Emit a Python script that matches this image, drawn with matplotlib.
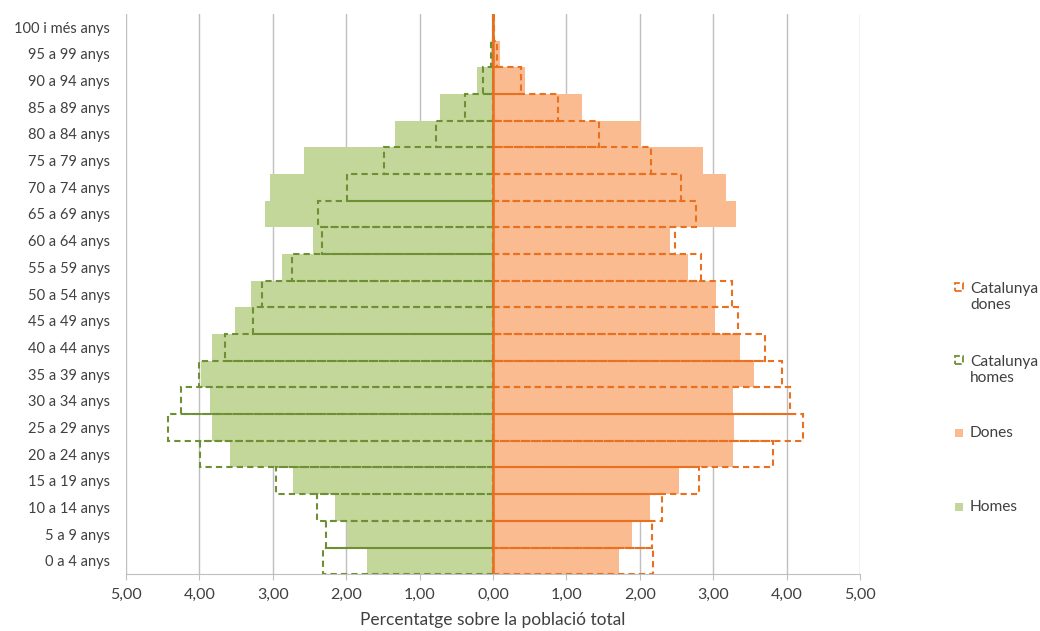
import matplotlib.pyplot as plt
from matplotlib.patches import Rectangle
from matplotlib.ticker import FixedLocator, FuncFormatter

# age groups, youngest first (drawn bottom to top)
grups = ['0 a 4 anys', '5 a 9 anys', '10 a 14 anys', '15 a 19 anys', '20 a 24 anys',
         '25 a 29 anys', '30 a 34 anys', '35 a 39 anys', '40 a 44 anys', '45 a 49 anys',
         '50 a 54 anys', '55 a 59 anys', '60 a 64 anys', '65 a 69 anys', '70 a 74 anys',
         '75 a 79 anys', '80 a 84 anys', '85 a 89 anys', '90 a 94 anys', '95 a 99 anys',
         '100 i més anys']

homes = [1.72, 1.99, 2.15, 2.72, 3.58, 3.82, 3.86, 3.97, 3.82, 3.51, 3.29,
         2.87, 2.45, 3.11, 3.03, 2.57, 1.34, 0.72, 0.22, 0.03, 0.01]
dones = [1.71, 1.89, 2.14, 2.54, 3.27, 3.28, 3.27, 3.55, 3.36, 3.02, 3.04,
         2.66, 2.41, 3.31, 3.17, 2.86, 2.02, 1.21, 0.44, 0.10, 0.02]
cat_homes = [2.31, 2.28, 2.40, 2.95, 3.99, 4.43, 4.25, 4.00, 3.65, 3.27, 3.14,
             2.74, 2.33, 2.38, 1.99, 1.48, 0.78, 0.38, 0.13, 0.02, 0.00]
cat_dones = [2.18, 2.16, 2.30, 2.80, 3.81, 4.22, 4.04, 3.93, 3.71, 3.34, 3.25,
             2.84, 2.48, 2.77, 2.56, 2.15, 1.45, 0.89, 0.38, 0.06, 0.01]

llegenda = ['Catalunya\ndones', 'Catalunya\nhomes', 'Dones', 'Homes']

verd = '#c4d79b'
taronja = '#f9bb8f'
verd_fosc = '#6f8f35'
taronja_fosc = '#e8701e'
text_col = '#404040'

plt.rcParams['font.family'] = ['Lato', 'DejaVu Sans']

fig = plt.figure(figsize=(10.4, 6.31), dpi=100)
ax = fig.add_axes([0.121, 0.09, 0.706, 0.888])

y = list(range(len(grups)))

ax.barh(y, [-v for v in homes], height=1.0, color=verd, linewidth=0, zorder=2)
ax.barh(y, dones, height=1.0, color=taronja, linewidth=0, zorder=2)

ax.barh(y, [-v for v in cat_homes], height=1.0, fill=False, edgecolor=verd_fosc,
        linestyle=(0, (3, 2)), linewidth=1.5, zorder=3)
ax.barh(y, cat_dones, height=1.0, fill=False, edgecolor=taronja_fosc,
        linestyle=(0, (3, 2)), linewidth=1.5, zorder=3)

ax.axvline(0, color=taronja_fosc, linewidth=1.8, zorder=4)

ax.set_xlim(-5, 5)
ax.set_ylim(-0.5, len(grups) - 0.5)
ax.xaxis.set_major_locator(FixedLocator(range(-5, 6)))
ax.xaxis.set_major_formatter(FuncFormatter(lambda v, p: f'{abs(v):.2f}'.replace('.', ',')))
ax.set_yticks(y)
ax.set_yticklabels(grups)

ax.grid(axis='x', color='#bfbfbf', linewidth=1.0, zorder=0)
ax.set_axisbelow(True)
for s in ['top', 'right', 'left']:
    ax.spines[s].set_visible(False)
ax.spines['bottom'].set_color('#bfbfbf')
ax.tick_params(axis='both', colors='#bfbfbf', labelcolor=text_col)
ax.tick_params(axis='y', length=0, pad=11.5, labelsize=10.5)
ax.tick_params(axis='x', length=4, pad=6, labelsize=11.5)

ax.set_xlabel('Percentatge sobre la població total', fontsize=12.5, color=text_col, labelpad=7)

# legend drawn by hand: Excel spaces the entries by centre
W, H = fig.get_size_inches() * fig.dpi
entrades = [
    dict(fc='none', ec=taronja_fosc, ls='--'),
    dict(fc='none', ec=verd_fosc, ls='--'),
    dict(fc=taronja, ec='none', ls='-'),
    dict(fc=verd, ec='none', ls='-'),
]
centres = [297, 370, 433, 507]
for lab, e, yc in zip(llegenda, entrades, centres):
    primera = yc - 10 if '\n' in lab else yc
    fig.add_artist(Rectangle((955 / W, 1 - (primera + 4) / H), 8 / W, 8 / H,
                             transform=fig.transFigure, facecolor=e['fc'],
                             edgecolor=e['ec'], linestyle=e['ls'], linewidth=1.3))
    fig.text(970 / W, 1 - yc / H, lab, ha='left', va='center', fontsize=11.2,
             color=text_col, linespacing=1.1)

fig.savefig('out.png', dpi=100)
